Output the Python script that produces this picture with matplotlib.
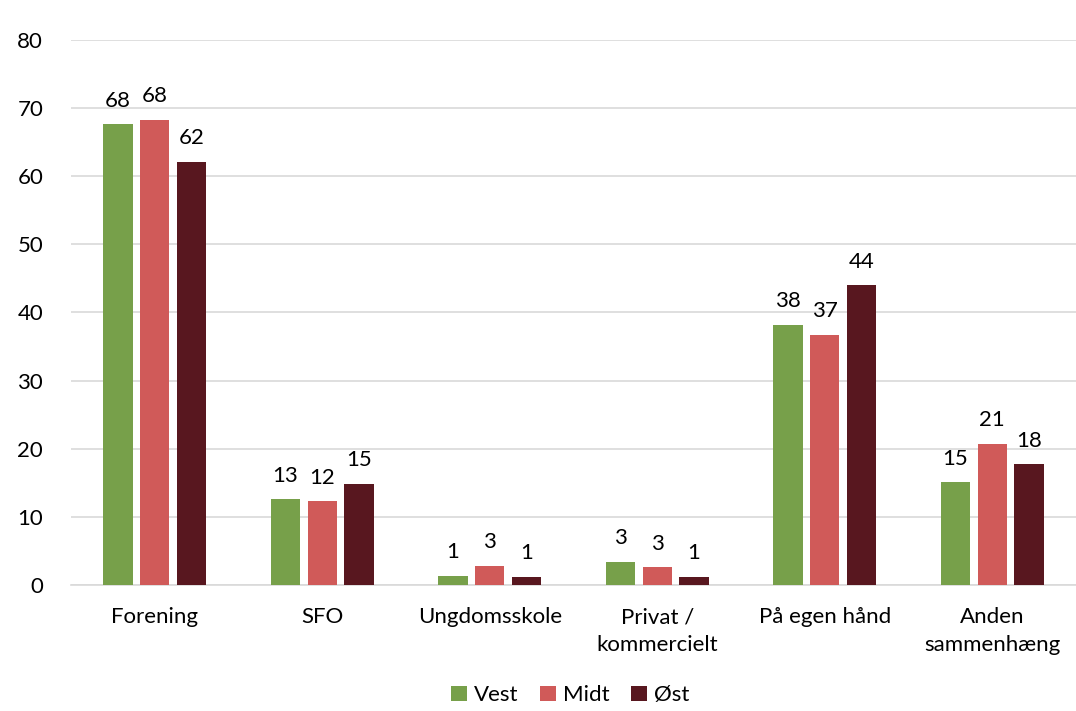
import numpy as np
import matplotlib
matplotlib.use("Agg")
import matplotlib.pyplot as plt

categories = ["Forening", "SFO", "Ungdomsskole", "Privat /\nkommercielt",
              "På egen hånd", "Anden\nsammenhæng"]
series = ["Vest", "Midt", "Øst"]
vest = [67.6, 12.6, 1.4, 3.4, 38.2, 15.1]
midt = [68.3, 12.3, 2.8, 2.6, 36.7, 20.7]
oest = [62.1, 14.9, 1.2, 1.2, 44.0, 17.7]
colors = ["#77A04A", "#D05A59", "#58171F"]

plt.rcParams['font.family'] = ['Lato', 'DejaVu Sans']
FS = 16

fig = plt.figure(figsize=(10.76, 7.11), dpi=100)
ax = fig.add_axes([0.066, 0.177, 0.934, 0.767])

x = np.arange(len(categories))
w = 0.175
step = 0.22
for i, (vals, c, name) in enumerate(zip([vest, midt, oest], colors, series)):
    pos = x + (i - 1) * step
    bars = ax.bar(pos, vals, width=w, color=c, label=name, zorder=3)
    for b, v in zip(bars, vals):
        ax.text(b.get_x() + b.get_width() / 2, v + 2.0, f"{v:.0f}",
                ha="center", va="bottom", fontsize=FS, color="#000000")

ax.set_ylim(0, 80)
ax.set_xlim(-0.5, len(categories) - 0.5)
ax.set_yticks(range(0, 81, 10))
ax.set_xticks(x)
ax.set_xticklabels(categories, fontsize=FS, linespacing=1.45)
ax.tick_params(axis="y", labelsize=FS, length=0, pad=20)
ax.tick_params(axis="x", length=0, pad=16)
ax.yaxis.grid(True, color="#D9D9D9", linewidth=1.2, zorder=0)
ax.set_axisbelow(True)
for s in ["top", "right", "left"]:
    ax.spines[s].set_visible(False)
ax.spines["bottom"].set_color("#D9D9D9")
ax.spines["bottom"].set_linewidth(1.2)

fig.legend(loc="lower center", ncol=3, frameon=False, fontsize=FS,
           bbox_to_anchor=(0.53, -0.02), handlelength=0.7, handleheight=0.7,
           handletextpad=0.3, columnspacing=1.0)

fig.savefig("out.png", dpi=100)
